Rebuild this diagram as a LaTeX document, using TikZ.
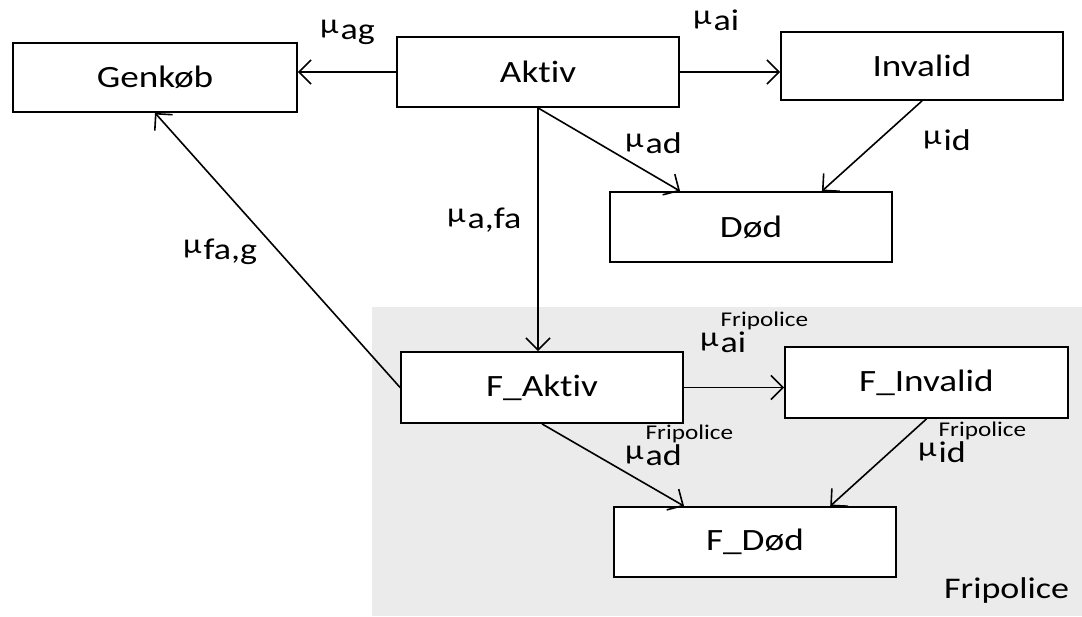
\documentclass[tikz,border=0pt]{standalone}
\usepackage{fontspec}
\setmainfont{Carlito}[FakeStretch=1.2, Ligatures=NoCommon]
\usetikzlibrary{arrows.meta,calc}
\newcommand\mymu{\raisebox{6pt}{\fontsize{28}{28}\selectfont μ}\hspace{2pt}}
\newcommand\mulab[1]{\mymu{\fontsize{30}{30}\selectfont #1}}
\newcommand\mulabF[1]{\mymu\vbox{\baselineskip=26pt\lineskiplimit=-50pt\hbox{\fontsize{21}{21}\selectfont Fripolice}\hbox{\fontsize{30}{30}\selectfont #1}}}
\tikzset{
  statebox/.style={draw, line width=1.8pt, fill=white, minimum width=282pt, minimum height=70pt, inner sep=0pt, font=\fontsize{31}{31}\selectfont},
  conn/.style={line width=1.6pt, -{Straight Barb[length=12pt,width=24pt,line width=1.6pt]}},
  lab/.style={anchor=base west, inner sep=0pt}
}
\begin{document}
\begin{tikzpicture}[x=1pt,y=-1pt]
\useasboundingbox (0,0) rectangle (1082,616);
\fill[black!8] (372,307) rectangle (1082,616);
\node[statebox, minimum width=284pt, minimum height=69pt] (G) at (155,77.5) {Genkøb};
\node[statebox] (A) at (538,72) {Aktiv};
\node[statebox, minimum height=68pt] (I) at (922,66) {Invalid};
\node[statebox] (D) at (751,227) {Død};
\node[statebox, minimum height=71pt] (FA) at (542,387.5) {F\_Aktiv};
\node[statebox, minimum width=283pt, minimum height=71pt] (FI) at (926.5,382.5) {F\_Invalid};
\node[statebox] (FD) at (755,542) {F\_Død};
\node[lab] (Fri) at (944,598) {\fontsize{30}{30}\selectfont Fripolice};
% connectors
\draw[conn] (A.west) -- (A.west -| G.east);
\draw[conn] (A.east) -- (A.east -| I.west);
\draw[conn] (A.south) -- ($(D.north)!0.5!(D.north west)$);
\draw[conn] (I.south) -- ($(D.north)!0.5!(D.north east)$);
\draw[conn] (A.south) -- (A.south |- FA.north);
\draw[conn] (FA.west) -- (G.south);
\draw[conn] (FA.east) -- (FA.east -| FI.west);
\draw[conn] (FA.south) -- ($(FD.north)!0.5!(FD.north west)$);
\draw[conn] (FI.south) -- ($(FD.north)!0.53!(FD.north east)$);
% labels
\node[lab] (lag) at (320,39) {\mulab{ag}};
\node[lab] (lai) at (693,30) {\mulab{ai}};
\node[lab] (lad) at (625,153) {\mulab{ad}};
\node[lab] (lid) at (923,150) {\mulab{id}};
\node[lab] (lafa) at (447,228) {\mulab{a,fa}};
\node[lab] (lfag) at (183,259) {\mulab{fa,g}};
\node[lab] (lFai) at (700,352) {\mulabF{ai}};
\node[lab] (lFad) at (625,465) {\mulabF{ad}};
\node[lab] (lFid) at (918,462) {\mulabF{id}};
\end{tikzpicture}
\end{document}
